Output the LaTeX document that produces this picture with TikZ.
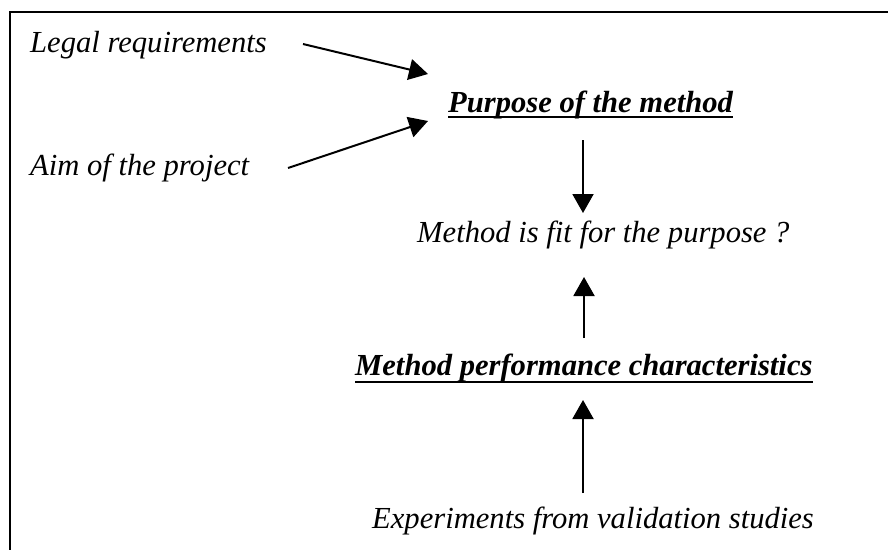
\documentclass[tikz,border=0pt]{standalone}
\usepackage{fontspec}
\setmainfont{Liberation Serif}
\usetikzlibrary{arrows.meta}
\begin{document}
\begin{tikzpicture}[x=1pt,y=-1pt,
  txt/.style={inner sep=0pt,font=\fontsize{30.6}{36}\selectfont\itshape},
  btxt/.style={inner sep=0pt,font=\fontsize{30.6}{36}\selectfont\bfseries\itshape},
  arr/.style={line width=2pt,-{Triangle[length=19pt,width=21pt]}},
  uline/.style={line width=2.6pt},
  frame/.style={line width=2pt}]
\useasboundingbox (0,0) rectangle (888,549);
% frame (top and left only)
\coordinate (ftl) at (10,12);
\coordinate (ftr) at (889,12);
\coordinate (fbl) at (10,550);
\draw[frame] (ftr) -- (ftl) -- (fbl);
% texts
\node[txt,anchor=base west] (legal) at (30,52) {Legal requirements};
\node[txt,anchor=base west] (aim) at (30,175) {Aim of the project};
\node[btxt,anchor=base west] (purpose) at (448,112) {Purpose of the method};
\node[txt,anchor=base west] (fit) at (417,242) {Method is fit for the purpose ?};
\node[btxt,anchor=base west] (perf) at (355,375) {Method performance characteristics};
\node[txt,anchor=base west] (exp) at (372,528) {Experiments from validation studies};
% underlines
\draw[uline] ([yshift=-5pt]purpose.base west) -- ([yshift=-5pt]purpose.base east);
\draw[uline] ([yshift=-7pt]perf.base west) -- ([yshift=-7pt]perf.base east);
% arrow end points
\coordinate (a1s) at (303,44);
\coordinate (a1e) at (428,74);
\coordinate (a2s) at (288,168);
\coordinate (a2e) at (428,121);
\coordinate (a3s) at (583,140);
\coordinate (a3e) at (583,213);
\coordinate (a4s) at (584,338);
\coordinate (a4e) at (584,277);
\coordinate (a5s) at (583,493);
\coordinate (a5e) at (583,400);
\draw[arr] (a1s) -- (a1e);
\draw[arr] (a2s) -- (a2e);
\draw[arr] (a3s) -- (a3e);
\draw[arr] (a4s) -- (a4e);
\draw[arr] (a5s) -- (a5e);
\end{tikzpicture}
\end{document}
